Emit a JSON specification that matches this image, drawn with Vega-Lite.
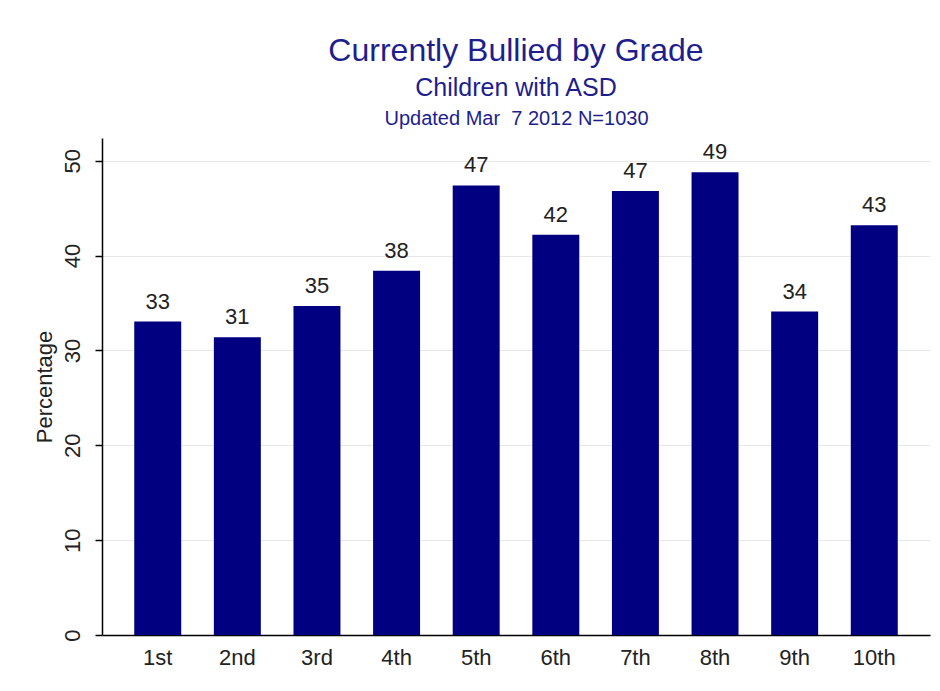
{
  "$schema": "https://vega.github.io/schema/vega-lite/v6.json",
  "width": 828,
  "height": 497,
  "autosize": {"type": "none"},
  "padding": {"left": 102, "top": 138, "right": 10, "bottom": 56},
  "background": "white",
  "config": {"font": "Liberation Sans", "view": {"stroke": null}},
  "title": {
    "text": "Currently Bullied by Grade",
    "subtitle": "Children with ASD",
    "fontSize": 32,
    "fontWeight": "normal",
    "color": "#1e1e8c",
    "subtitleFontSize": 25,
    "subtitleColor": "#1e1e8c",
    "subtitlePadding": 8,
    "offset": 6,
    "anchor": "middle",
    "frame": "group"
  },
  "data": {
    "values": [
      {"grade": "1st", "value": 33.05},
      {"grade": "2nd", "value": 31.4},
      {"grade": "3rd", "value": 34.7},
      {"grade": "4th", "value": 38.4},
      {"grade": "5th", "value": 47.4},
      {"grade": "6th", "value": 42.2},
      {"grade": "7th", "value": 46.8},
      {"grade": "8th", "value": 48.8},
      {"grade": "9th", "value": 34.1},
      {"grade": "10th", "value": 43.2}
    ]
  },
  "encoding": {
    "y": {
      "field": "value",
      "type": "quantitative",
      "scale": {"domain": [0, 52.4], "nice": false},
      "axis": {
        "title": "Percentage",
        "titleFontSize": 22,
        "titleFontWeight": "normal",
        "titleColor": "#222222",
        "titlePadding": 5,
        "values": [0, 10, 20, 30, 40, 50],
        "labelAngle": -90,
        "labelAlign": "center",
        "labelBaseline": "alphabetic",
        "labelPadding": 16,
        "labelFontSize": 22,
        "labelColor": "#222222",
        "tickSize": 7,
        "tickColor": "#000000",
        "tickWidth": 1.5,
        "domainColor": "#000000",
        "domainWidth": 1.5,
        "gridColor": "#e8e8e8",
        "gridWidth": 1
      }
    }
  },
  "layer": [
    {
      "mark": {"type": "bar", "color": "#000080"},
      "encoding": {
        "x": {
          "field": "grade",
          "type": "nominal",
          "sort": null,
          "scale": {"paddingInner": 0.41, "paddingOuter": 0.405},
          "axis": {
            "orient": "bottom",
            "title": null,
            "ticks": false,
            "labelAngle": 0,
            "labelFontSize": 22,
            "labelColor": "#222222",
            "labelPadding": 12,
            "domainColor": "#000000",
            "domainWidth": 1.5,
            "grid": false
          }
        }
      }
    },
    {
      "mark": {"type": "text", "baseline": "alphabetic", "dy": -13, "fontSize": 22, "color": "#222222"},
      "encoding": {
        "x": {
          "field": "grade",
          "type": "nominal",
          "sort": null,
          "scale": {"paddingInner": 0.41, "paddingOuter": 0.405},
          "axis": {
            "orient": "top",
            "title": "Updated Mar \u00a07 2012 N=1030",
            "titleFontSize": 20,
            "titleFontWeight": "normal",
            "titleColor": "#1e1e8c",
            "titlePadding": 10,
            "labels": false,
            "ticks": false,
            "domain": false,
            "grid": false
          }
        },
        "text": {"field": "value", "type": "quantitative", "format": ".0f"}
      }
    }
  ],
  "resolve": {"axis": {"x": "independent"}}
}
